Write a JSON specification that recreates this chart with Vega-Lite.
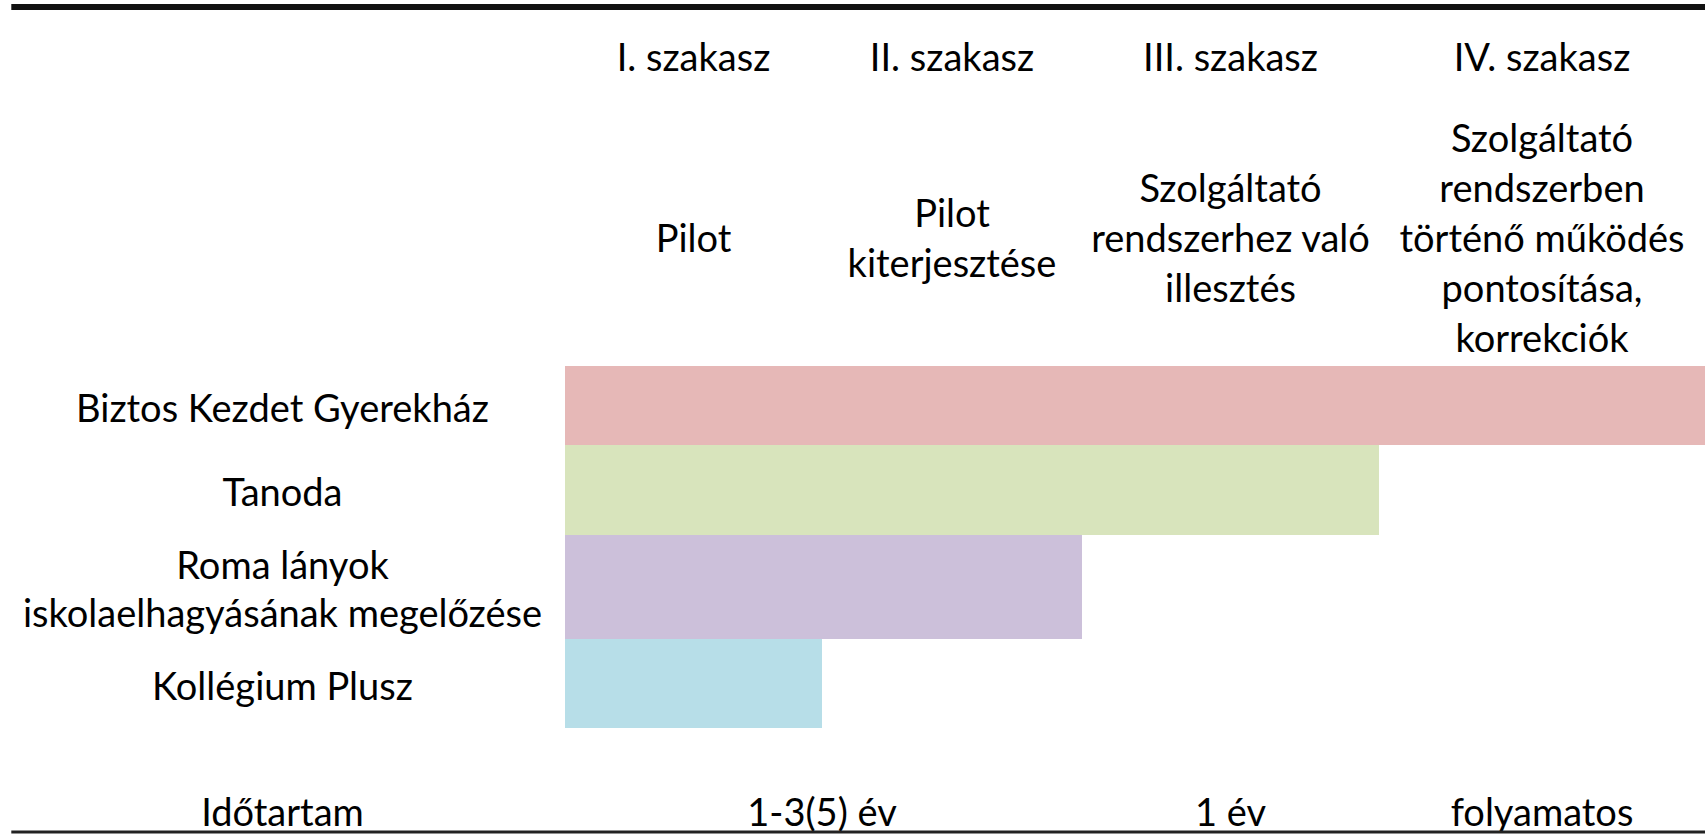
{
  "$schema": "https://vega.github.io/schema/vega-lite/v6.json",
  "width": 1705,
  "height": 836,
  "autosize": {"type": "none"},
  "padding": 0,
  "background": "white",
  "config": {"view": {"stroke": null}, "text": {"font": "Lato", "fontSize": 38, "color": "#000000"}},
  "layer": [
    {
      "data": {"values": [
        {"program": "Biztos Kezdet Gyerekház", "row": 0, "rowEnd": 1, "mid": 0.5, "start": 0, "end": 4, "lines": 1},
        {"program": "Tanoda", "row": 1, "rowEnd": 2, "mid": 1.5, "start": 0, "end": 3, "lines": 1},
        {"program": "Roma lányok\niskolaelhagyásának megelőzése", "row": 2, "rowEnd": 3, "mid": 2.5, "start": 0, "end": 2, "lines": 2},
        {"program": "Kollégium Plusz", "row": 3, "rowEnd": 4, "mid": 3.5, "start": 0, "end": 1, "lines": 1}
      ]},
      "layer": [
        {
          "mark": {"type": "rect"},
          "encoding": {
            "x": {"field": "start", "type": "quantitative", "axis": null,
                  "scale": {"domain": [-1, 0, 1, 2, 3, 4], "range": [0, 565, 822, 1082, 1379, 1705], "zero": false, "nice": false}},
            "x2": {"field": "end"},
            "y": {"field": "row", "type": "quantitative", "axis": null,
                  "scale": {"domain": [-3, -2, -1, 0, 1, 2, 3, 4, 5, 6], "range": [7, 60, 241, 366, 445, 535, 639, 728, 815, 832], "zero": false, "nice": false}},
            "y2": {"field": "rowEnd"},
            "color": {"field": "program", "type": "nominal", "legend": null,
                      "scale": {"domain": ["Biztos Kezdet Gyerekház", "Tanoda", "Roma lányok\niskolaelhagyásának megelőzése", "Kollégium Plusz"],
                                "range": ["#E6B8B7", "#D8E4BC", "#CCC0DA", "#B7DEE8"]}}
          }
        },
        {
          "transform": [{"filter": "datum.lines == 1"}],
          "mark": {"type": "text", "align": "center", "baseline": "middle", "dy": 5},
          "encoding": {
            "x": {"datum": -0.5, "type": "quantitative"},
            "y": {"field": "mid", "type": "quantitative"},
            "text": {"field": "program"}
          }
        },
        {
          "transform": [{"filter": "datum.lines == 2"}],
          "mark": {"type": "text", "align": "center", "baseline": "middle", "lineBreak": "\n", "lineHeight": 48, "dy": -19},
          "encoding": {
            "x": {"datum": -0.5, "type": "quantitative"},
            "y": {"field": "mid", "type": "quantitative"},
            "text": {"field": "program"}
          }
        }
      ]
    },
    {
      "data": {"values": [
        {"stage": "I. szakasz", "phase": "Pilot", "center": 0.5, "lines": 1},
        {"stage": "II. szakasz", "phase": "Pilot\nkiterjesztése", "center": 1.5, "lines": 2},
        {"stage": "III. szakasz", "phase": "Szolgáltató\nrendszerhez való\nillesztés", "center": 2.5, "lines": 3},
        {"stage": "IV. szakasz", "phase": "Szolgáltató\nrendszerben\ntörténő működés\npontosítása,\nkorrekciók", "center": 3.5, "lines": 5}
      ]},
      "layer": [
        {
          "mark": {"type": "text", "align": "center", "baseline": "middle"},
          "encoding": {
            "x": {"field": "center", "type": "quantitative"},
            "y": {"datum": -2, "type": "quantitative"},
            "text": {"field": "stage"}
          }
        },
        {
          "transform": [{"filter": "datum.lines == 1"}],
          "mark": {"type": "text", "align": "center", "baseline": "middle"},
          "encoding": {
            "x": {"field": "center", "type": "quantitative"},
            "y": {"datum": -1, "type": "quantitative"},
            "text": {"field": "phase"}
          }
        },
        {
          "transform": [{"filter": "datum.lines == 2"}],
          "mark": {"type": "text", "align": "center", "baseline": "middle", "lineBreak": "\n", "lineHeight": 50, "dy": -25},
          "encoding": {
            "x": {"field": "center", "type": "quantitative"},
            "y": {"datum": -1, "type": "quantitative"},
            "text": {"field": "phase"}
          }
        },
        {
          "transform": [{"filter": "datum.lines == 3"}],
          "mark": {"type": "text", "align": "center", "baseline": "middle", "lineBreak": "\n", "lineHeight": 50, "dy": -50},
          "encoding": {
            "x": {"field": "center", "type": "quantitative"},
            "y": {"datum": -1, "type": "quantitative"},
            "text": {"field": "phase"}
          }
        },
        {
          "transform": [{"filter": "datum.lines == 5"}],
          "mark": {"type": "text", "align": "center", "baseline": "middle", "lineBreak": "\n", "lineHeight": 50, "dy": -100},
          "encoding": {
            "x": {"field": "center", "type": "quantitative"},
            "y": {"datum": -1, "type": "quantitative"},
            "text": {"field": "phase"}
          }
        }
      ]
    },
    {
      "data": {"values": [
        {"label": "Időtartam", "pos": -0.5},
        {"label": "1-3(5) év", "pos": 1},
        {"label": "1 év", "pos": 2.5},
        {"label": "folyamatos", "pos": 3.5}
      ]},
      "mark": {"type": "text", "align": "center", "baseline": "middle"},
      "encoding": {
        "x": {"field": "pos", "type": "quantitative"},
        "y": {"datum": 5, "type": "quantitative"},
        "text": {"field": "label"}
      }
    },
    {
      "data": {"values": [{"from": -0.98, "to": 4, "level": -3}]},
      "mark": {"type": "rule", "strokeWidth": 6, "color": "#111111"},
      "encoding": {
        "x": {"field": "from", "type": "quantitative"},
        "x2": {"field": "to"},
        "y": {"field": "level", "type": "quantitative"}
      }
    },
    {
      "data": {"values": [{"from": -0.98, "to": 4, "level": 6}]},
      "mark": {"type": "rule", "strokeWidth": 3, "color": "#222222"},
      "encoding": {
        "x": {"field": "from", "type": "quantitative"},
        "x2": {"field": "to"},
        "y": {"field": "level", "type": "quantitative"}
      }
    }
  ]
}
